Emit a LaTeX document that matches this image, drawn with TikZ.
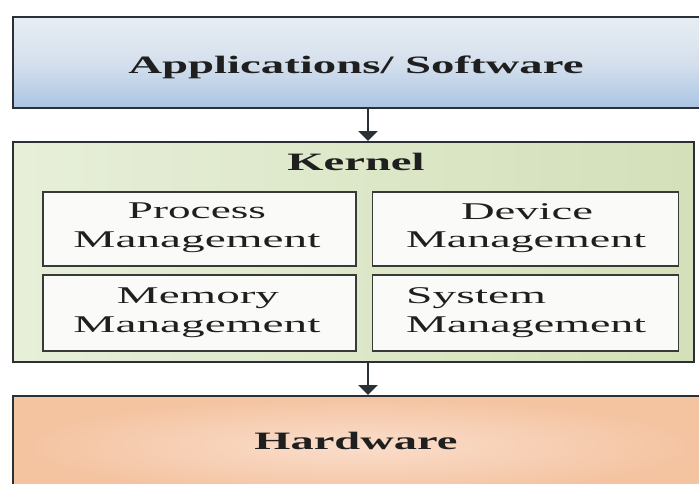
\documentclass[tikz,border=0pt]{standalone}
\usepackage{fontspec}
\setmainfont{Liberation Serif}
\usetikzlibrary{arrows.meta}
\definecolor{appTop}{HTML}{E8EDF3}
\definecolor{appMid}{HTML}{D5E0ED}
\definecolor{appBot}{HTML}{ABC5E3}
\definecolor{kerL}{HTML}{E7EFD9}
\definecolor{kerR}{HTML}{D3E0B9}
\definecolor{hwIn}{HTML}{FADDCB}
\definecolor{hwOut}{HTML}{F4C3A0}
\definecolor{edgeDark}{HTML}{2B3036}
\definecolor{subEdge}{HTML}{383A36}
\definecolor{subFill}{HTML}{FAFAF8}
\definecolor{txt}{HTML}{1F1F1F}
\begin{document}
\begin{tikzpicture}[x=1pt,y=-1pt,
  bigbox/.style={draw=edgeDark, line width=2pt, rectangle, inner sep=0pt},
  subbox/.style={draw=subEdge, line width=1.8pt, fill=subFill, rectangle, inner sep=0pt},
  ttl/.style={inner sep=0pt, text=txt, font=\fontsize{25}{29}\selectfont\bfseries},
  sub/.style={inner sep=0pt, text=txt, font=\fontsize{24}{28}\selectfont},
  arr/.style={draw=edgeDark, line width=2.6pt, -{Triangle[width=19pt,length=10pt]}}
]
\useasboundingbox (0,0) rectangle (699,483);
\fill[white] (0,0) rectangle (699,483);
\clip (0,0) rectangle (699,483);

% Applications box (extends beyond right edge)
\node[bigbox, top color=appTop, bottom color=appBot, middle color=appMid,
      minimum width=692pt, minimum height=91pt] (app) at (359,62.5) {};
% Kernel box
\node[bigbox, left color=kerL, right color=kerR,
      minimum width=681pt, minimum height=220pt] (kernel) at (353.5,252) {};
% Hardware box
\node[bigbox, inner color=hwIn, outer color=hwOut, shading=radial,
      minimum width=692pt, minimum height=100pt] (hw) at (359,446) {};

% Sub boxes
\node[subbox, minimum width=313pt, minimum height=74pt] (pm) at (199.5,229) {};
\node[subbox, minimum width=306pt, minimum height=74pt] (dm) at (525.5,229) {};
\node[subbox, minimum width=313pt, minimum height=76pt] (mm) at (199.5,313) {};
\node[subbox, minimum width=306pt, minimum height=76pt] (sm) at (525.5,313) {};

% Arrows
\coordinate (ax) at (368,0);
\draw[arr] (app.south -| ax) -- (kernel.north -| ax);
\draw[arr] (kernel.south -| ax) -- (hw.north -| ax);

% Titles
\node[ttl, anchor=base] (tapp) at (356,73) {\resizebox{455pt}{\height}{Applications/ Software}};
\node[ttl, anchor=base] (tker) at (356,170) {\resizebox{137pt}{\height}{Kernel}};
\node[ttl, anchor=base] (thw) at (356,449) {\resizebox{203pt}{\height}{Hardware}};

% Sub texts
\node[sub, anchor=base] (tp1) at (197,218) {\resizebox{138pt}{\height}{Process}};
\node[sub, anchor=base] (tp2) at (197,247) {\resizebox{247pt}{\height}{Management}};
\node[sub, anchor=base] (td1) at (527,219) {\resizebox{132pt}{\height}{Device}};
\node[sub, anchor=base] (td2) at (526,247) {\resizebox{240pt}{\height}{Management}};
\node[sub, anchor=base] (tm1) at (198,303) {\resizebox{162pt}{\height}{Memory}};
\node[sub, anchor=base] (tm2) at (197,332) {\resizebox{247pt}{\height}{Management}};
\node[sub, anchor=base west] (ts1) at (406,303) {\resizebox{140pt}{\height}{System}};
\node[sub, anchor=base west] (ts2) at (406,332) {\resizebox{240pt}{\height}{Management}};
\end{tikzpicture}
\end{document}
